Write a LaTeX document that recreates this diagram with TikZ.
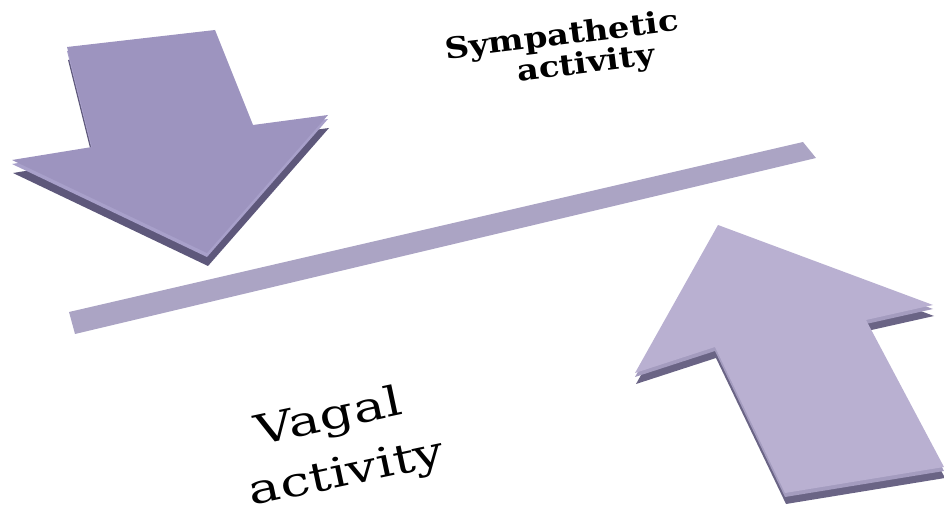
\documentclass[tikz,border=0pt]{standalone}
\usepackage{fontspec}
\setmainfont{DejaVu Serif}
\newfontfamily\wideserif[FakeStretch=1.15]{DejaVu Serif}
\newfontfamily\widerserif[FakeStretch=1.3]{DejaVu Serif}
\usepackage{tikz}

\definecolor{lefttop}{HTML}{9D94BF}
\definecolor{leftbevel}{HTML}{A8A0CA}
\definecolor{leftside}{HTML}{5E587B}
\definecolor{righttop}{HTML}{B9B0D1}
\definecolor{rightbevel}{HTML}{A49CBF}
\definecolor{rightside}{HTML}{6A6485}
\definecolor{barfill}{HTML}{ABA4C4}

\tikzset{
 symlabel/.style={inner sep=0pt, font=\wideserif\bfseries\fontsize{25}{25}\selectfont},
 vaglabel/.style={inner sep=0pt, font=\widerserif\fontsize{35}{35}\selectfont}
}

\def\downarrowpath{(67,47) -- (215,30) -- (253,125) -- (328,115) -- (207,253) -- (12,160) -- (92,147) -- cycle}
\def\uparrowpath{(718,225) -- (933,305) -- (866,320) -- (944,467) -- (785,493) -- (715,347) -- (635,373) -- cycle}

\begin{document}
\begin{tikzpicture}[x=0.03cm, y=-0.03cm]
 \useasboundingbox (0,0) rectangle (944,515);

 % bar in the middle
 \fill[barfill] (69,312) -- (803,142) -- (816,158) -- (75,334) -- cycle;

 % arrow going down
 \fill[leftside, shift={(1,13)}] \downarrowpath;
 \fill[leftbevel, shift={(0,4)}] \downarrowpath;
 \fill[lefttop] \downarrowpath;

 % arrow going up
 \fill[rightside, shift={(1,11)}] \uparrowpath;
 \fill[rightbevel, shift={(0,4)}] \uparrowpath;
 \fill[righttop] \uparrowpath;

 \node[symlabel, rotate=7] (symp) at (562,37) {Sympathetic};
 \node[symlabel, rotate=7] (sympact) at (586,65) {activity};
 \node[vaglabel, rotate=12] (vagal) at (329,419) {Vagal};
 \node[vaglabel, rotate=12] (vagact) at (347,475) {activity};
\end{tikzpicture}
\end{document}
